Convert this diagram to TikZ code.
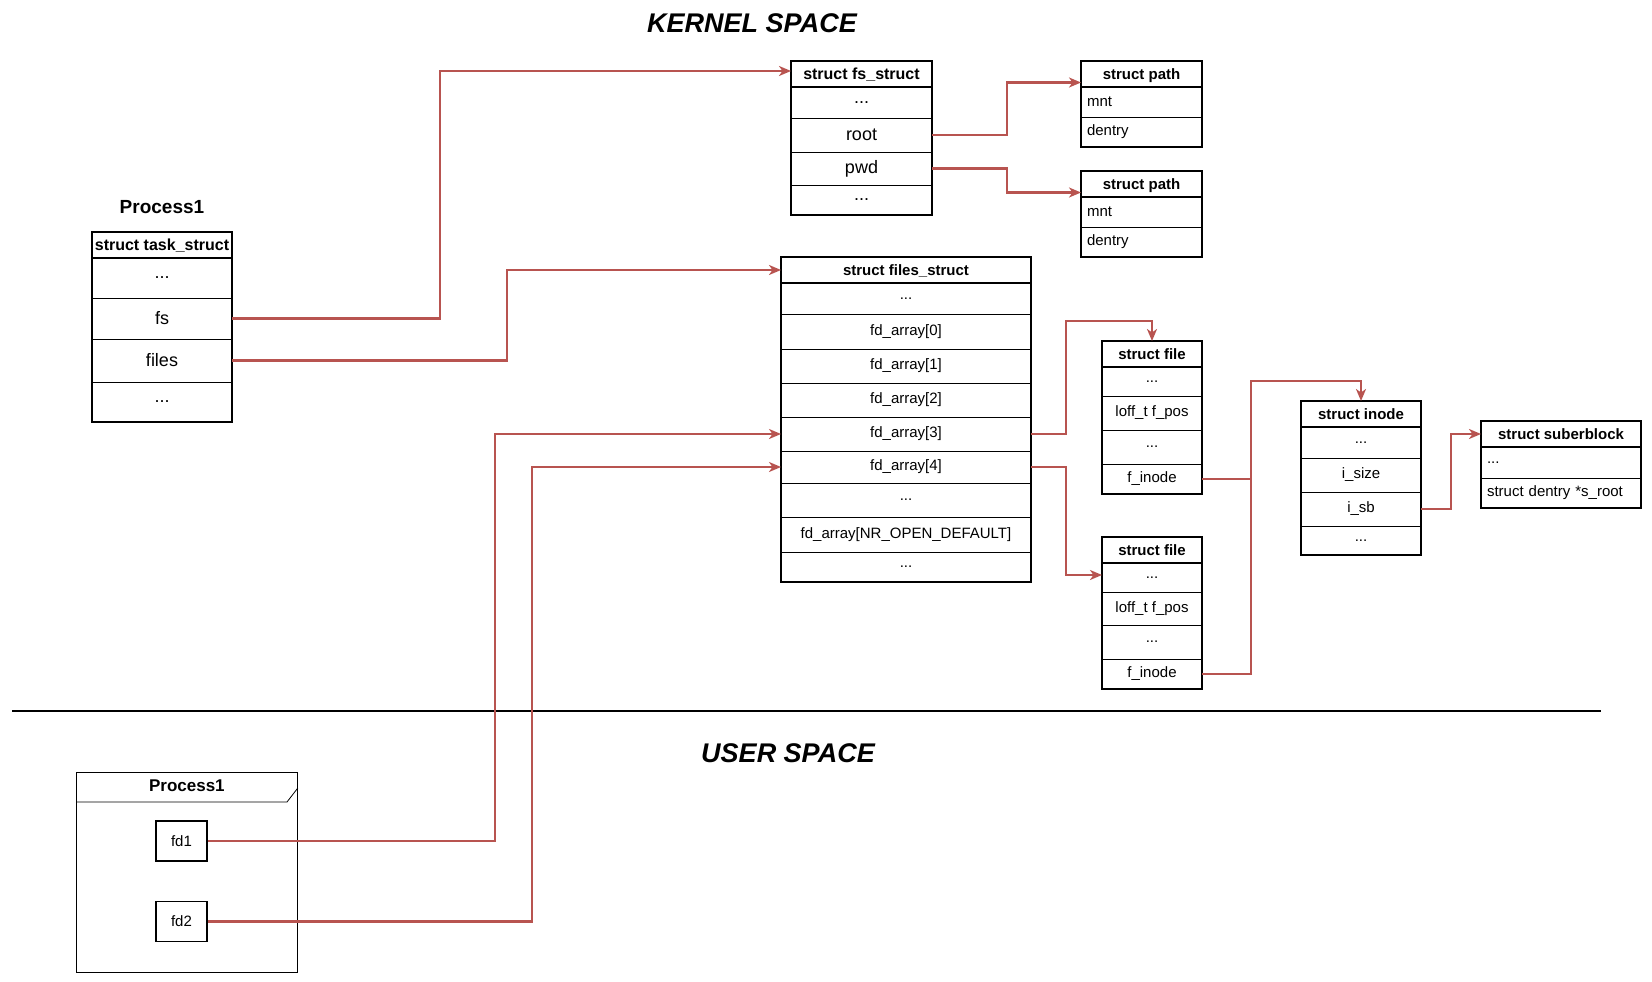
\documentclass[tikz,border=0pt]{standalone}
\usepackage{fontspec}
\setmainfont{Liberation Sans}
\usepackage{xcolor}
\usetikzlibrary{arrows.meta, positioning, calc}
\definecolor{linkred}{RGB}{184,84,80}
\newcommand{\dotsrow}{...}

\begin{document}
\begin{tikzpicture}[x=1pt, y=-1pt,
    hdr/.style={draw, line width=1.6pt, inner sep=0pt, outer sep=0pt, anchor=north west,
        minimum height=26pt, text depth=0pt, font=\fontsize{#1}{#1}\selectfont\bfseries},
    fld/.style={draw, line width=0.8pt, inner sep=0pt, outer sep=0pt, font=\fontsize{#1}{#1}\selectfont},
    lfld/.style={fld=#1, align=left, inner xsep=6pt},
    frame/.style={draw, line width=1.8pt},
    fdbox/.style={draw, line width=1.6pt, minimum width=51pt, minimum height=40pt, inner sep=0pt,
        font=\fontsize{15}{15}\selectfont},
    title/.style={font=\fontsize{27}{27}\selectfont\bfseries\itshape},
    wire/.style={draw=linkred, line width=2.1pt},
    link/.style={wire, -{Stealth[length=12pt, width=10pt, inset=3.5pt]}}]
    \useasboundingbox (0,0) rectangle (1652,982);

    \node[title] (kernel) at (752,23) {KERNEL SPACE};
    \node[title] (user) at (788,753) {USER SPACE};
    \draw[line width=1.6pt] (12,711) -- (1601,711);

    % task_struct
    \node[font=\fontsize{19}{19}\selectfont\bfseries] (pname) at (162,207) {Process1};
    \node[hdr=16, minimum width=140pt] (tsh) at (92,232) {struct task\_struct};
    \foreach \t/\h [count=\i, remember=\i as \j (initially h)] in {\dotsrow/40, fs/41, files/43, \dotsrow/40}
        \node[fld=18, minimum width=140pt, minimum height=\h pt, below=0pt of ts\j] (ts\i) {\t};
    \draw[frame] (tsh.north west) rectangle (ts4.south east);

    % fs_struct
    \node[hdr=16, minimum width=141pt] (fsh) at (791,61) {struct fs\_struct};
    \foreach \t/\h [count=\i, remember=\i as \j (initially h)] in {\dotsrow/31, root/34, pwd/33, \dotsrow/30}
        \node[fld=18, minimum width=141pt, minimum height=\h pt, below=0pt of fs\j] (fs\i) {\t};
    \draw[frame] (fsh.north west) rectangle (fs4.south east);

    % path
    \node[hdr=15, minimum width=121pt] (p1h) at (1081,61) {struct path};
    \foreach \t/\h [count=\i, remember=\i as \j (initially h)] in {mnt/30, dentry/30}
        \node[lfld=15, text width=109pt, minimum height=\h pt, below=0pt of p1\j] (p1\i) {\t};
    \draw[frame] (p1h.north west) rectangle (p12.south east);
    \node[hdr=15, minimum width=121pt] (p2h) at (1081,171) {struct path};
    \foreach \t/\h [count=\i, remember=\i as \j (initially h)] in {mnt/30, dentry/30}
        \node[lfld=15, text width=109pt, minimum height=\h pt, below=0pt of p2\j] (p2\i) {\t};
    \draw[frame] (p2h.north west) rectangle (p22.south east);

    % files_struct
    \node[hdr=15, minimum width=250pt] (fih) at (781,257) {struct files\_struct};
    \foreach \t/\h [count=\i, remember=\i as \j (initially h)] in {\dotsrow/31, fd\_array[0]/35,
            fd\_array[1]/34, fd\_array[2]/34, fd\_array[3]/34, fd\_array[4]/32, \dotsrow/34,
            fd\_array[NR\_OPEN\_DEFAULT]/35, \dotsrow/30}
        \node[fld=15, minimum width=250pt, minimum height=\h pt, below=0pt of fi\j] (fi\i) {\t};
    \draw[frame] (fih.north west) rectangle (fi9.south east);

    % file
    \node[hdr=15, minimum width=100pt] (f1h) at (1102,341) {struct file};
    \foreach \t/\h [count=\i, remember=\i as \j (initially h)] in {\dotsrow/29, loff\_t f\_pos/34,
            \dotsrow/34, f\_inode/30}
        \node[fld=15, minimum width=100pt, minimum height=\h pt, below=0pt of f1\j] (f1\i) {\t};
    \draw[frame] (f1h.north west) rectangle (f14.south east);
    \node[hdr=15, minimum width=100pt] (f2h) at (1102,537) {struct file};
    \foreach \t/\h [count=\i, remember=\i as \j (initially h)] in {\dotsrow/29, loff\_t f\_pos/33,
            \dotsrow/34, f\_inode/30}
        \node[fld=15, minimum width=100pt, minimum height=\h pt, below=0pt of f2\j] (f2\i) {\t};
    \draw[frame] (f2h.north west) rectangle (f24.south east);

    % inode
    \node[hdr=15, minimum width=120pt] (inh) at (1301,401) {struct inode};
    \foreach \t/\h [count=\i, remember=\i as \j (initially h)] in {\dotsrow/31, i\_size/34, i\_sb/34, \dotsrow/29}
        \node[fld=15, minimum width=120pt, minimum height=\h pt, below=0pt of in\j] (in\i) {\t};
    \draw[frame] (inh.north west) rectangle (in4.south east);

    % superblock
    \node[hdr=15, minimum width=160pt] (sbh) at (1481,421) {struct suberblock};
    \foreach \t/\h [count=\i, remember=\i as \j (initially h)] in {\dotsrow/31, struct dentry *s\_root/30}
        \node[lfld=15, text width=148pt, minimum height=\h pt, below=0pt of sb\j] (sb\i) {\t};
    \draw[frame] (sbh.north west) rectangle (sb2.south east);

    % user process
    \node[draw, line width=0.8pt, minimum width=221pt, minimum height=200pt, inner sep=0pt,
        anchor=north west] (proc) at (76,772) {};
    \draw[line width=0.8pt] ([yshift=-30pt]proc.north west) -- ++(211,0) -- ([yshift=-16pt]proc.north east);
    \node[font=\fontsize{17}{17}\selectfont\bfseries] (ptitle) at ([yshift=-14pt]proc.north) {Process1};
    \node[fdbox] (fd1) at (181.5,841) {fd1};
    \node[fdbox] (fd2) at (181.5,921.5) {fd2};

    % pointers
    \draw[link] (ts2.east) -- ++(208,0) |- ([yshift=3pt]fsh.west);
    \draw[link] (ts3.east) -- ++(275,0) |- (fih.west);
    \draw[link] (fs2.east) -- ++(75,0) |- ($(p1h.north west)!0.25!(p12.south west)$);
    \draw[link] (fs3.east) -- ++(75,0) |- ($(p2h.north west)!0.25!(p22.south west)$);
    \draw[link] (fi5.east) -- ++(35,0) |- ([yshift=20pt]f1h.north) -- (f1h.north);
    \draw[link] (fi6.east) -- ++(35,0) |- ($(f2h.north west)!0.25!(f24.south west)$);
    \draw[link] (f14.east) -- ++(49,0) coordinate (jn) |- ([yshift=20pt]inh.north) -- (inh.north);
    \draw[wire] (f24.east) -| (jn);
    \draw[link] (in3.east) -- ++(30,0) |- (sbh.west);
    \draw[link] (fd1.east) -- ++(287,0) |- (fi5.west);
    \draw[link] (fd2.east) -- ++(324,0) |- (fi6.west);
\end{tikzpicture}
\end{document}
